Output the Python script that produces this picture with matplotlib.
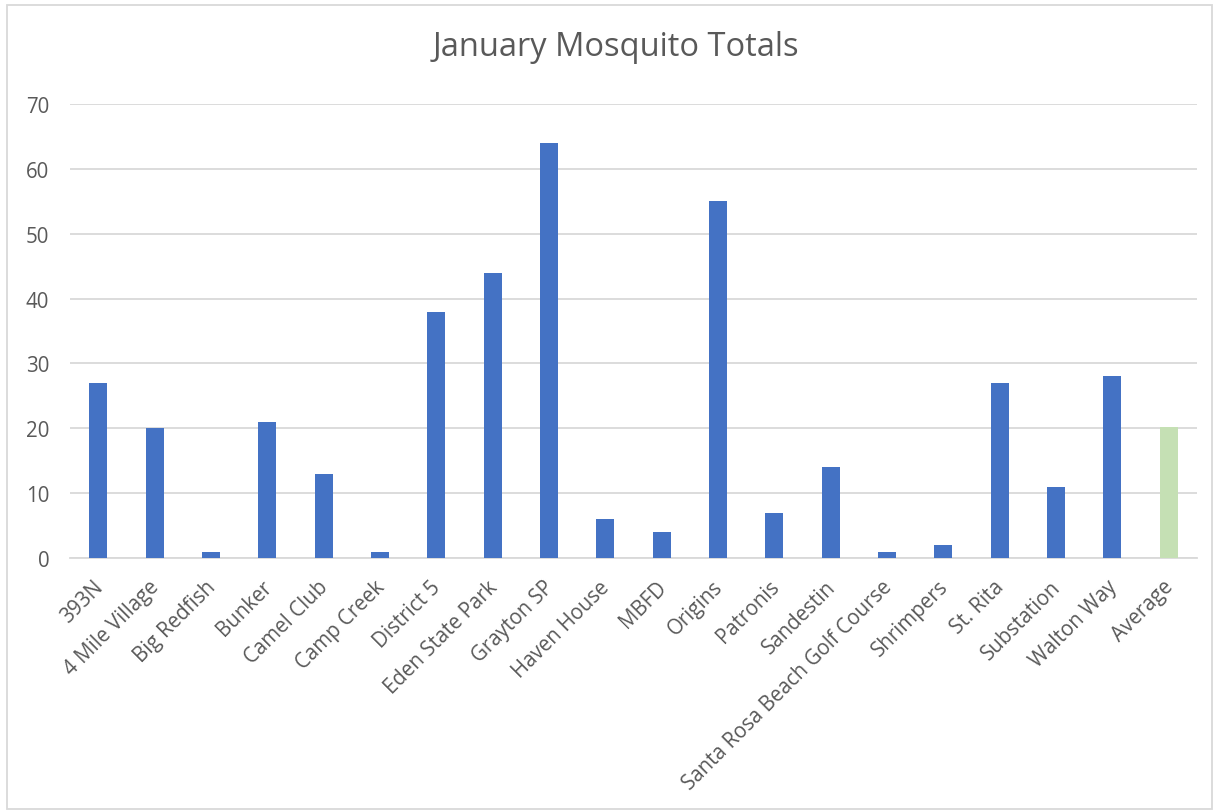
import numpy as np
import matplotlib.pyplot as plt
import matplotlib.transforms as mtransforms
from matplotlib.patches import Rectangle

#----------------------------------------------------------------------------------------------------------------------
# Data

sites = ["393N", "4 Mile Village", "Big Redfish", "Bunker", "Camel Club", "Camp Creek", "District 5",
         "Eden State Park", "Grayton SP", "Haven House", "MBFD", "Origins", "Patronis", "Sandestin",
         "Santa Rosa Beach Golf Course", "Shrimpers", "St. Rita", "Substation", "Walton Way", "Average"]
totals = [27, 20, 1, 21, 13, 1, 38, 44, 64, 6, 4, 55, 7, 14, 1, 2, 27, 11, 28, 20.2]
yticks = [0, 10, 20, 30, 40, 50, 60, 70]

#----------------------------------------------------------------------------------------------------------------------
# Plot

plt.rcParams['font.family'] = ['Open Sans', 'DejaVu Sans']

fig = plt.figure(figsize=(12.17, 8.12), dpi=100)
ax = fig.add_axes([70 / 1217, 1 - 559 / 812, 1127 / 1217, 454 / 812])

x = np.arange(len(sites))
colors = ["#4472C4"] * (len(sites) - 1) + ["#C5E0B4"]
ax.bar(x, totals, width=0.32, color=colors, zorder=3)

ax.set_xlim(-0.5, len(sites) - 0.5)
ax.set_ylim(0, 70)
ax.set_yticks(yticks)
ax.set_xticks(x)
ax.set_xticklabels(sites, rotation=45, ha="right", rotation_mode="anchor")
ax.tick_params(axis="both", length=0, labelsize=14.8, colors="#595959")
ax.tick_params(axis="y", pad=15)
ax.tick_params(axis="x", pad=13)
ax.yaxis.grid(True, color="#D9D9D9", linewidth=1.3, zorder=0)
for s in ["top", "right", "left"]:
    ax.spines[s].set_visible(False)
ax.spines["bottom"].set_color("#D9D9D9")
ax.spines["bottom"].set_linewidth(1.3)

# nudge the slanted labels a little to the left
shift = mtransforms.ScaledTranslation(-6 / 100, 0, fig.dpi_scale_trans)
for lab in ax.get_xticklabels():
    lab.set_transform(lab.get_transform() + shift)

fig.text(616 / 1217, 1 - 48 / 812, "January Mosquito Totals", ha="center", va="center",
         fontsize=23.5, color="#595959")

fig.patches.append(Rectangle((7 / 1217, 2 / 812), 1205 / 1217, 804 / 812, transform=fig.transFigure,
                             fill=False, edgecolor="#D9D9D9", linewidth=1.3))

fig.savefig("out.png", dpi=100)
